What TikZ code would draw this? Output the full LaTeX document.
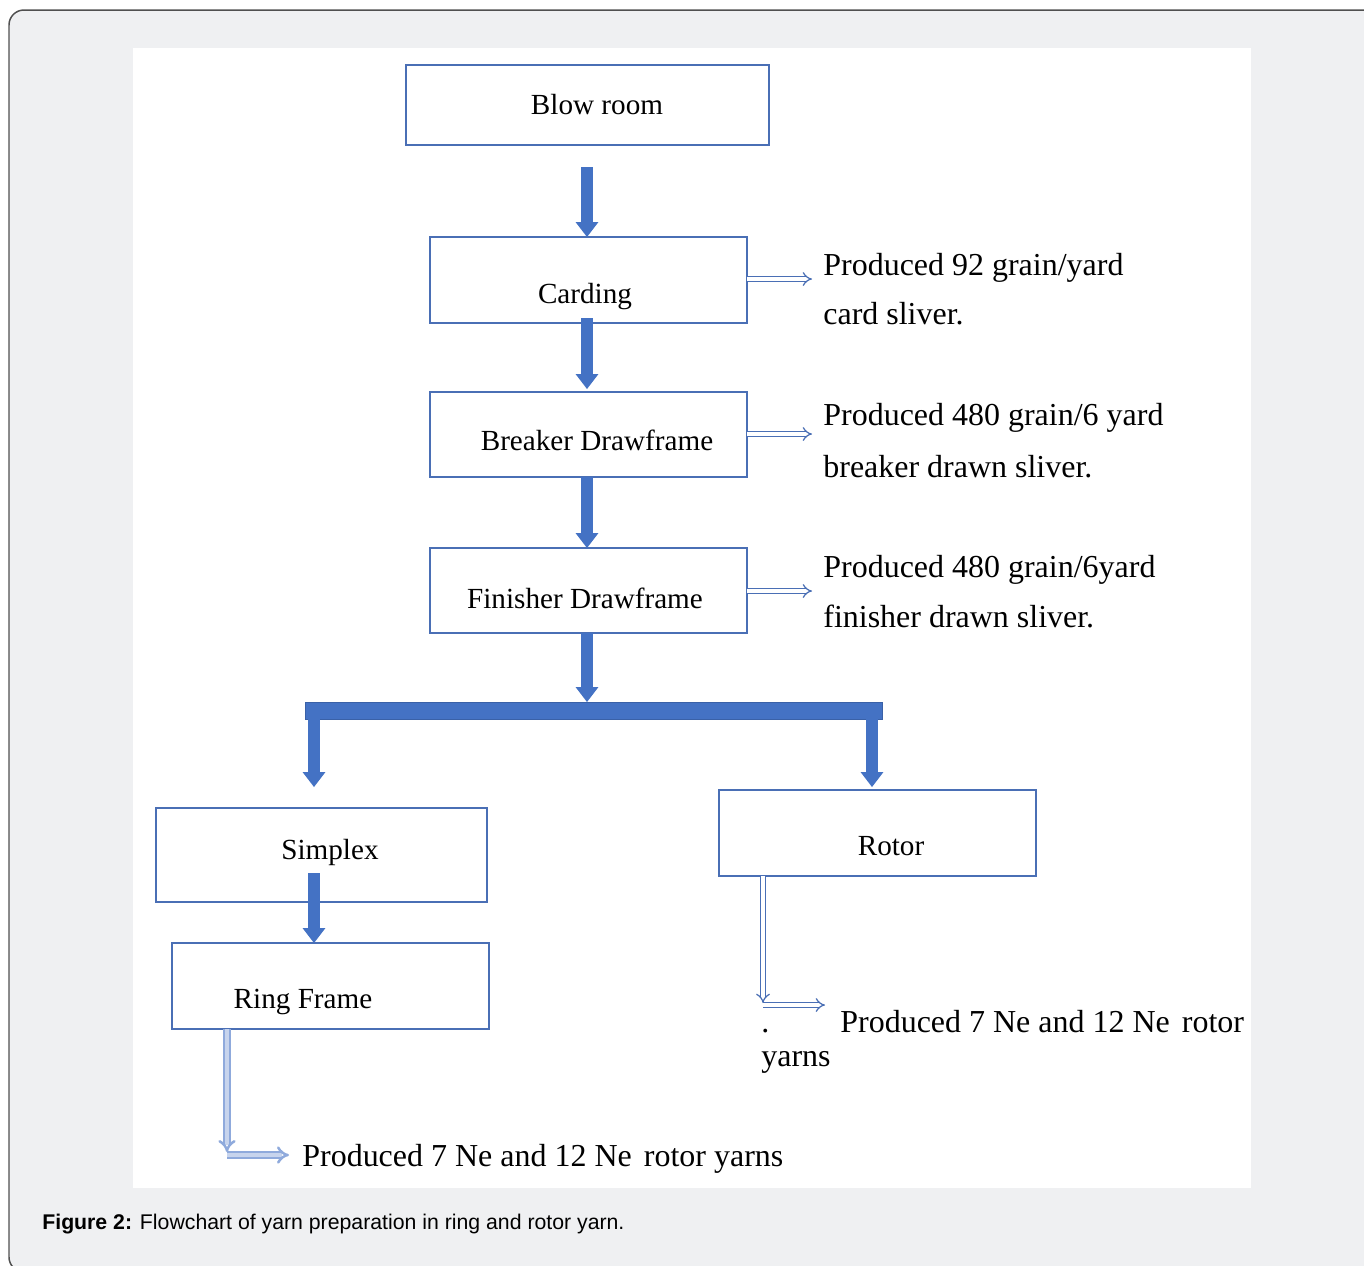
\documentclass[tikz,border=0pt]{standalone}
\usepackage{fontspec}
\setmainfont{Liberation Serif}
\newfontfamily\capfont{Liberation Sans}
\usetikzlibrary{arrows.meta}
\definecolor{boxblue}{HTML}{4472C4}
\definecolor{bordblue}{HTML}{4A6FB5}
\definecolor{bggray}{HTML}{EFF0F2}
\definecolor{framegray}{HTML}{505050}
\definecolor{lightblue}{HTML}{8FAADC}
\begin{document}
\begin{tikzpicture}[x=0.02cm,y=-0.02cm,
  box/.style={draw=bordblue, line width=0.8pt, rectangle, inner sep=0pt, outer sep=0pt},
  boxtext/.style={anchor=base, font=\fontsize{16.6pt}{19pt}\selectfont, inner sep=0pt},
  sidetext/.style={anchor=base west, font=\fontsize{18.2pt}{21pt}\selectfont, inner sep=0pt},
  big/.style={draw=boxblue, line width=7pt, -{Triangle[width=13pt,length=8.5pt,line width=0pt]}},
  dbl/.style={draw=bordblue, line width=0.7pt, double=white, double distance=2pt, -{Implies}},
  dbllight/.style={draw=lightblue, line width=1.4pt, double=lightblue!50, double distance=1.8pt, -{Implies}}]
\useasboundingbox (0,0) rectangle (1364,1265);
\begin{scope}
\clip (0,0) rectangle (1364,1265);
\draw[framegray, line width=0.85pt, fill=bggray, rounded corners=0.3cm] (9,10) rectangle (1378,1272);
\end{scope}
\fill[white] (133,48) rectangle (1251,1188);

% boxes
\node[box, minimum width=7.26cm, minimum height=1.6cm] (blow) at (587.5,105) {};
\node[box, minimum width=6.34cm, minimum height=1.72cm] (card) at (588.5,280) {};
\node[box, minimum width=6.34cm, minimum height=1.7cm] (brk) at (588.5,434.5) {};
\node[box, minimum width=6.34cm, minimum height=1.7cm] (fin) at (588.5,590.5) {};
\node[box, minimum width=6.62cm, minimum height=1.88cm] (simp) at (321.5,855) {};
\node[box, minimum width=6.34cm, minimum height=1.72cm] (ring) at (330.5,986) {};
\node[box, minimum width=6.34cm, minimum height=1.72cm] (rotor) at (877.5,833) {};
\node[fill=boxblue, draw=boxblue!85!black, line width=0.3pt, minimum width=11.54cm, minimum height=0.34cm, inner sep=0pt, outer sep=0pt] (bar) at (593.5,710.5) {};

% box texts
\node[boxtext] (tblow) at (597,114) {Blow room};
\node[boxtext] (tcard) at (585,303) {Carding};
\node[boxtext] (tbrk) at (597,450) {Breaker Drawframe};
\node[boxtext] (tfin) at (585,608) {Finisher Drawframe};
\node[boxtext] (tsimp) at (330,859) {Simplex};
\node[boxtext] (tring) at (303,1008) {Ring Frame};
\node[boxtext] (trotor) at (891,855) {Rotor};

% side texts
\node[sidetext] (l1a) at (823,275) {Produced 92 grain/yard};
\node[sidetext] (l1b) at (823,324) {card sliver.};
\node[sidetext] (l2a) at (823,425) {Produced 480 grain/6 yard};
\node[sidetext] (l2b) at (823,477) {breaker drawn sliver.};
\node[sidetext] (l3a) at (823,577) {Produced 480 grain/6yard};
\node[sidetext] (l3b) at (823,627) {finisher drawn sliver.};
\node[sidetext] (l4dot) at (761,1032) {.};
\node[sidetext] (l4a) at (840,1032) {Produced 7 Ne and 12 Ne\hspace{0.38em}rotor};
\node[sidetext] (l4b) at (761,1066) {yarns};
\node[sidetext] (l5) at (302,1166) {Produced 7 Ne and 12 Ne\hspace{0.38em}rotor yarns};

% caption
\node[anchor=base west, inner sep=0pt, font=\capfont\fontsize{12.1pt}{14pt}\selectfont] (cap) at (42,1229) {\textbf{Figure 2:} Flowchart of yarn preparation in ring and rotor yarn.};

% thick arrows (main column at x = 587)
\coordinate (k1) at (587,167);
\coordinate (k2) at (587,318);
\coordinate (k3) at (587,389);
\coordinate (k4) at (587,477);
\coordinate (k5) at (587,633);
\draw[big] (k1) -- (k1 |- card.north);
\draw[big] (k2) -- (k3);
\draw[big] (k4) -- (k4 |- fin.north);
\draw[big] (k5) -- (k5 |- bar.north);
\coordinate (lt) at (314,787);
\coordinate (rt) at (872,787);
\draw[big] (bar.south -| lt) -- (lt);
\draw[big] (bar.south -| rt) -- (rt);
\coordinate (s7) at (314,873);
\draw[big] (s7) -- (s7 |- ring.north);

% side double arrows
\coordinate (c1) at (812,279);
\coordinate (c2) at (812,434);
\coordinate (c3) at (812,591);
\draw[dbl] (card.east |- c1) -- (c1);
\draw[dbl] (brk.east |- c2) -- (c2);
\draw[dbl] (fin.east |- c3) -- (c3);

% rotor output
\coordinate (r1) at (763,1003);
\coordinate (r2) at (763,1005);
\coordinate (r3) at (825,1005);
\draw[dbl] (rotor.south -| r1) -- (r1);
\draw[dbl] (r2) -- (r3);

% ring output
\coordinate (g1) at (227,1152);
\coordinate (g2) at (227,1155);
\coordinate (g3) at (289,1155);
\draw[dbllight] (ring.south -| g1) -- (g1);
\draw[dbllight] (g2) -- (g3);
\end{tikzpicture}
\end{document}
